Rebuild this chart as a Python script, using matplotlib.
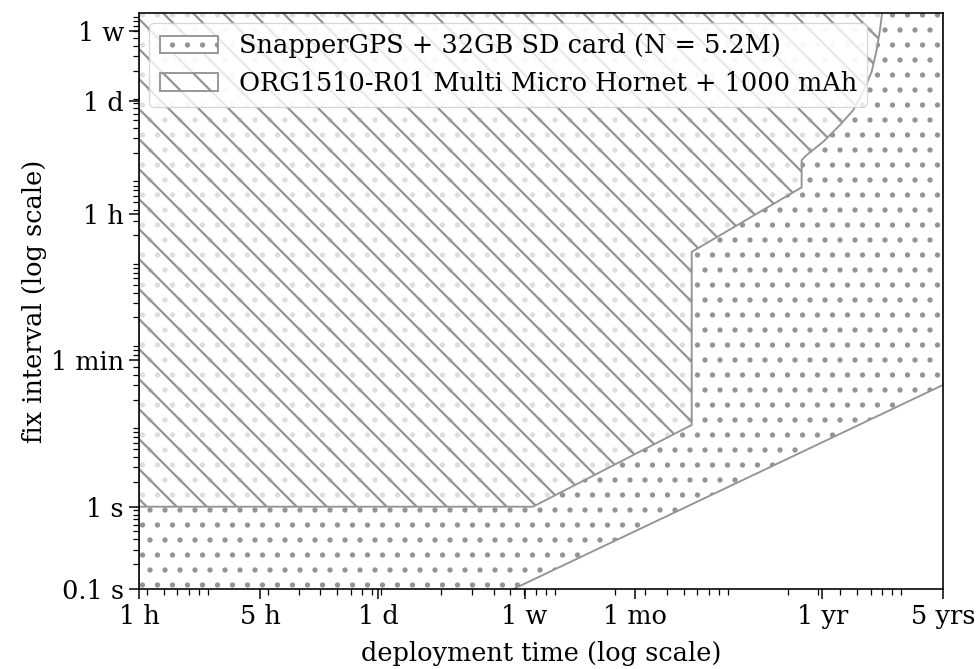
import numpy as np
import matplotlib
matplotlib.use("Agg")
import matplotlib.pyplot as plt
from matplotlib.patches import Patch

plt.rcParams['font.family'] = ['DejaVu Serif']
plt.rcParams['font.size'] = 20.5
plt.rcParams['hatch.linewidth'] = 1.8

# all times in seconds
HOUR = 3600
DAY = 86400
YEAR = 365 * DAY

# SnapperGPS + 32GB SD card: minimum fix interval vs deployment time
snap_deploy = [HOUR, 5 * YEAR]
snap_interval = [0.00069, 30.3]

# ORG1510-R01 + 1000 mAh battery: minimum fix interval vs deployment time
org_deploy = [HOUR, 6.75e5, 5.57e6, 5.57e6, 2.40e7, 2.40e7, 2.565e7, 3.198e7,
              3.993e7, 4.766e7, 5.44e7, 6.084e7, 6.502e7, 6.793e7, 7.006e7]
org_interval = [1, 1, 9.85, 1250, 7600, 16300, 18770, 27230,
                43450, 66070, 110300, 193000, 354000, 619000, 1.03e6]

xticks = [HOUR, 5 * HOUR, DAY, 7 * DAY, YEAR / 12, YEAR, 5 * YEAR]
xticklabels = ['1 h', '5 h', '1 d', '1 w', '1 mo', '1 yr', '5 yrs']
yticks = [0.1, 1, 60, HOUR, DAY, 7 * DAY]
yticklabels = ['0.1 s', '1 s', '1 min', '1 h', '1 d', '1 w']

fig = plt.figure(figsize=(979 / 90, 669 / 90), dpi=90)
ax = fig.add_axes([139 / 979, 80 / 669, (943.3 - 139) / 979, (589 - 13) / 669])

grey = '0.58'
top = 1e7

ax.fill_between(snap_deploy, snap_interval, top, facecolor='white',
                edgecolor=grey, hatch='.', linewidth=1.5, zorder=1)
ax.fill_between(org_deploy, org_interval, top, facecolor=(1, 1, 1, 0.7),
                edgecolor=grey, hatch='\\', linewidth=1.5, zorder=2)

ax.set_xscale('log')
ax.set_yscale('log')
ax.set_xlim(HOUR, 5 * YEAR)
ax.set_ylim(0.1, 1e6)

ax.set_xticks(xticks)
ax.set_xticklabels(xticklabels)
ax.set_yticks(yticks)
ax.set_yticklabels(yticklabels)
ax.tick_params(which='major', length=8, width=1.2, pad=4)
ax.tick_params(which='minor', length=4.5, width=1.0)
for sp in ax.spines.values():
    sp.set_linewidth(1.3)
    sp.set_zorder(5)

ax.set_xlabel('deployment time (log scale)', labelpad=10)
ax.set_ylabel('fix interval (log scale)', labelpad=3)

handles = [
    Patch(facecolor='white', edgecolor=grey, hatch='.', linewidth=1.5,
          label='SnapperGPS + 32GB SD card (N = 5.2M)'),
    Patch(facecolor='white', edgecolor=grey, hatch='\\', linewidth=1.5,
          label='ORG1510-R01 Multi Micro Hornet + 1000 mAh'),
]
ax.legend(handles=handles, loc='upper left', handlelength=2.3,
          borderaxespad=0.4)

fig.savefig('out.png', dpi=90)
